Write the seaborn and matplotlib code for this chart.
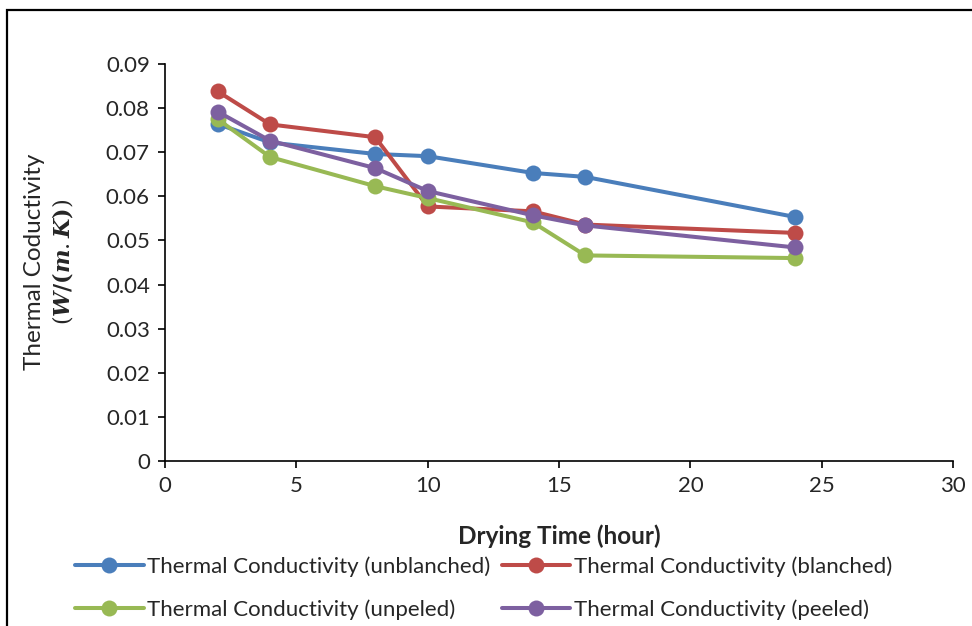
import numpy as np
import pandas as pd
import seaborn as sns
import matplotlib.pyplot as plt
from matplotlib.patches import Rectangle
from matplotlib.lines import Line2D

# Drying times (hours) and measured thermal conductivity (W/(m.K))
drying_time = [2, 4, 8, 10, 14, 16, 24]
unblanched = [0.0764, 0.0722, 0.0696, 0.0691, 0.0653, 0.0644, 0.0553]
blanched = [0.0838, 0.0763, 0.0734, 0.0577, 0.0566, 0.0536, 0.0517]
unpeled = [0.0775, 0.0689, 0.0623, 0.0596, 0.0541, 0.0466, 0.0460]
peeled = [0.0792, 0.0726, 0.0664, 0.0612, 0.0557, 0.0534, 0.0484]

series_names = [
    "Thermal Conductivity (unblanched)",
    "Thermal Conductivity (blanched)",
    "Thermal Conductivity (unpeled)",
    "Thermal Conductivity (peeled)",
]
series_values = [unblanched, blanched, unpeled, peeled]
colors = ["#4A7EBB", "#BE4B48", "#98B954", "#7D60A0"]

x_ticks = [0, 5, 10, 15, 20, 25, 30]
y_ticks = [0, 0.01, 0.02, 0.03, 0.04, 0.05, 0.06, 0.07, 0.08, 0.09]
y_tick_labels = ["0", "0.01", "0.02", "0.03", "0.04", "0.05", "0.06", "0.07", "0.08", "0.09"]

df = pd.DataFrame({
    "time": np.tile(drying_time, len(series_names)),
    "k": np.concatenate(series_values),
    "series": np.repeat(series_names, len(drying_time)),
})

sns.set_theme(style="white")
plt.rcParams["font.family"] = ["Lato", "DejaVu Sans"]
plt.rcParams["mathtext.fontset"] = "dejavuserif"

fig = plt.figure(figsize=(9.72, 6.26), dpi=100)
ax = fig.add_axes([0.1698, 0.2636, 0.8107, 0.6342])

sns.lineplot(
    data=df, x="time", y="k", hue="series", hue_order=series_names,
    palette=colors, marker="o", markersize=11.5, markeredgewidth=0,
    linewidth=2.9, ax=ax, legend=False, sort=False,
)

ax.set_xlim(0, 30)
ax.set_ylim(0, 0.09)
ax.set_xticks(x_ticks)
ax.set_xticklabels([str(t) for t in x_ticks], fontsize=16)
ax.set_yticks(y_ticks)
ax.set_yticklabels(y_tick_labels, fontsize=16)
ax.tick_params(axis="both", direction="out", length=5, width=1.2, color="black",
               left=True, bottom=True, pad=6)
for side in ["top", "right"]:
    ax.spines[side].set_visible(False)
for side in ["left", "bottom"]:
    ax.spines[side].set_color("black")
    ax.spines[side].set_linewidth(1.2)

ax.set_xlabel("Drying Time (hour)", fontsize=17.5, fontweight="bold", labelpad=20)
ax.set_ylabel("")
fig.text(0.036, 0.582, "Thermal Coductivity", rotation=90, fontsize=17.5,
         ha="center", va="center")
fig.text(0.064, 0.582, r"$(\boldsymbol{W/(m.K)})$", rotation=90, fontsize=16,
         ha="center", va="center")

# Legend laid out row by row: (unblanched, blanched) then (unpeled, peeled)
handles = [Line2D([], [], color=c, lw=2.9, marker="o", markersize=11.5,
                  markeredgewidth=0) for c in colors]
order = [0, 2, 1, 3]
fig.legend([handles[i] for i in order], [series_names[i] for i in order],
           loc="upper left", bbox_to_anchor=(75 / 972, 0.111),
           ncol=2, frameon=False, fontsize=16, handlelength=3.1,
           handletextpad=0.15, columnspacing=0.5, labelspacing=1.0,
           borderaxespad=0, borderpad=0)

# Outer chart border
fig.patches.append(Rectangle((7 / 972, -0.1), 1.2, (626 - 10) / 626 + 0.1,
                             transform=fig.transFigure, fill=False,
                             edgecolor="black", linewidth=1.6))

fig.savefig("out.png", dpi=100)
